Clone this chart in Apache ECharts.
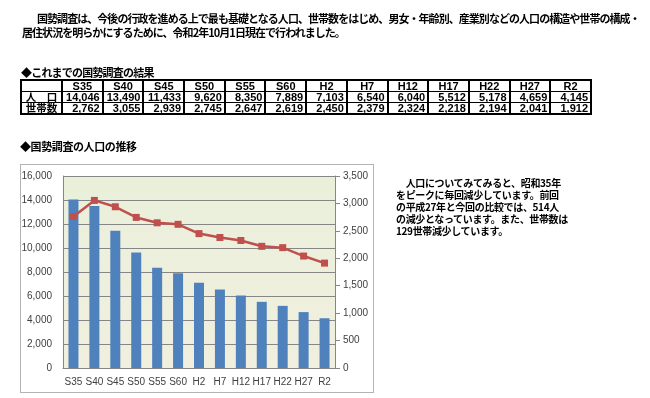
<!DOCTYPE html>
<html><head><meta charset="utf-8">
<script src="https://cdn.jsdelivr.net/npm/echarts@6/dist/echarts.min.js"></script>
<style>
html,body{margin:0;padding:0;background:#fff;width:650px;height:398px;overflow:hidden;}
#chart{position:absolute;left:0;top:0;width:650px;height:398px;}
.jp{position:absolute;font-family:"Noto Sans CJK JP",sans-serif;font-weight:700;color:#000;white-space:nowrap;}
#frame{position:absolute;left:20px;top:164px;width:352px;height:227px;border:1.5px solid #b4b4b4;}
table{position:absolute;left:20px;top:79px;border-collapse:collapse;table-layout:fixed;width:572px;border:2px solid #000;}
td{border-left:2px solid #000;border-right:2px solid #000;border-top:1px solid #000;border-bottom:1px solid #000;height:10px;padding:0 2px;line-height:10px;font-family:"Liberation Sans Narrow","Liberation Sans",sans-serif;font-weight:700;font-size:11px;text-align:right;overflow:visible;white-space:nowrap;}
td.h{text-align:center;}
td.lab{text-align:center;font-family:"Noto Sans CJK JP",sans-serif;font-size:10.5px;}
</style></head>
<body>
<div id="frame"></div>
<div id="chart"></div>
<div class="jp" style="left:37px;top:12px;font-size:11px;line-height:13px;letter-spacing:-0.95px;">国勢調査は、今後の行政を進める上で最も基礎となる人口、世帯数をはじめ、男女・年齢別、産業別などの人口の構造や世帯の構成・</div>
<div class="jp" style="left:22px;top:25.5px;font-size:11px;line-height:13px;letter-spacing:-0.95px;">居住状況を明らかにするために、令和2年10月1日現在で行われました。</div>
<div class="jp" style="left:21px;top:66px;font-size:11px;line-height:13px;letter-spacing:-0.8px;">◆これまでの国勢調査の結果</div>
<table id="tbl"></table>
<div class="jp" style="left:20px;top:139.5px;font-size:11px;line-height:13px;letter-spacing:-0.4px;">◆国勢調査の人口の推移</div>
<div class="jp" id="para" style="left:396px;top:177px;font-size:10px;line-height:12px;letter-spacing:-0.35px;"></div>
<script>
const categories = ['S35','S40','S45','S50','S55','S60','H2','H7','H12','H17','H22','H27','R2'];
const population = [14046,13490,11433,9620,8350,7889,7103,6540,6040,5512,5178,4659,4145];
const households = [2762,3055,2939,2745,2647,2619,2450,2379,2324,2218,2194,2041,1912];
const rowLabels = ['人　口','世帯数'];
const paraLines = ['　人口についてみてみると、昭和35年','をピークに毎回減少しています。前回','の平成27年と今回の比較では、514人','の減少となっています。また、世帯数は','129世帯減少しています。'];

const fmt = v => v.toLocaleString('en-US');

// table
let html = '<colgroup><col style="width:41px">' + categories.map(()=>'<col>').join('') + '</colgroup>';
html += '<tr><td class="h"></td>' + categories.map(c=>'<td class="h">'+c+'</td>').join('') + '</tr>';
html += '<tr><td class="lab">'+rowLabels[0]+'</td>' + population.map(v=>'<td>'+fmt(v)+'</td>').join('') + '</tr>';
html += '<tr><td class="lab">'+rowLabels[1]+'</td>' + households.map(v=>'<td>'+fmt(v)+'</td>').join('') + '</tr>';
document.getElementById('tbl').innerHTML = html;
document.getElementById('para').innerHTML = paraLines.join('<br>');

const chart = echarts.init(document.getElementById('chart'), null, {renderer:'canvas'});
const axisFont = '"Liberation Sans Narrow","Liberation Sans",sans-serif';
chart.setOption({
  animation:false,
  backgroundColor:'transparent',
  grid:{left:63,top:176,width:272,height:192,show:true,borderWidth:0,
    backgroundColor:new echarts.graphic.LinearGradient(0,0,0,1,[{offset:0,color:'#e9f0da'},{offset:1,color:'#f1efdf'}])},
  xAxis:{type:'category',data:categories,boundaryGap:true,
    axisLine:{lineStyle:{color:'#868686',width:1}},axisTick:{show:false},
    axisLabel:{color:'#404040',fontSize:10,margin:9,fontFamily:axisFont,interval:0}},
  yAxis:[
    {type:'value',min:0,max:16000,interval:2000,position:'left',
     axisLine:{show:true,lineStyle:{color:'#868686'}},axisTick:{show:false},
     splitLine:{show:true,lineStyle:{color:'#868686',width:1}},
     axisLabel:{color:'#404040',fontSize:10,margin:11,fontFamily:axisFont,formatter:fmt}},
    {type:'value',min:0,max:3500,interval:500,position:'right',
     axisLine:{show:true,lineStyle:{color:'#868686'}},axisTick:{show:true,length:5,lineStyle:{color:'#868686'}},
     splitLine:{show:false},
     axisLabel:{color:'#404040',fontSize:10,margin:8,fontFamily:axisFont,formatter:fmt}}
  ],
  series:[
    {type:'bar',data:population,yAxisIndex:0,barWidth:10,itemStyle:{color:'#4f81bd'}},
    {type:'line',data:households,yAxisIndex:1,symbol:'rect',symbolSize:7,
     lineStyle:{color:'#c0504d',width:2.5},itemStyle:{color:'#c0504d'}}
  ]
});
</script>
</body></html>
